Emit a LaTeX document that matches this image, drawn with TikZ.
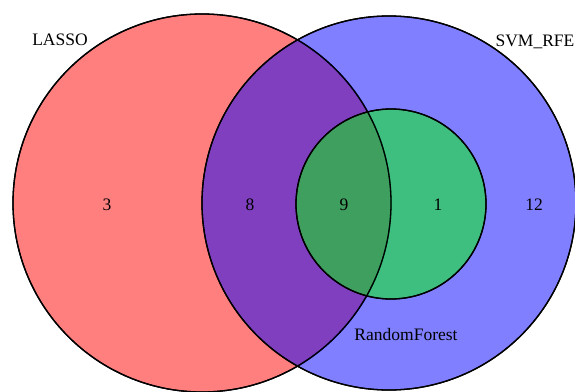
\documentclass[tikz,border=0pt]{standalone}
\usepackage{fontspec}
\setmainfont{Liberation Serif}
\begin{document}
\begin{tikzpicture}[x=1pt,y=-1pt,
  setc/.style={circle,inner sep=0pt,outer sep=0pt,fill opacity=0.5,draw opacity=1,draw=black,line width=1.3pt},
  lbl/.style={font=\fontsize{17.5}{20}\selectfont,text=black,inner sep=0pt}]
\useasboundingbox (0,0) rectangle (575,391);
\fill[white] (0,0) rectangle (575,391);
\node[setc,fill=red,minimum size=378pt] (lasso) at (202,203) {};
\node[setc,fill=blue,minimum size=374pt] (svm) at (389,203) {};
\node[setc,fill=green,minimum size=190pt] (rf) at (391,204) {};
\draw[line width=1.3pt] (202,203) circle[radius=189];
\draw[line width=1.3pt] (389,203) circle[radius=187];
\draw[line width=1.3pt] (391,204) circle[radius=95];
\node[lbl] (tlasso) at (60,40) {LASSO};
\node[lbl] (tsvm) at (535,42) {SVM\_RFE};
\node[lbl] (trf) at (406,335) {RandomForest};
\node[lbl] (n3) at (107,205) {3};
\node[lbl] (n8) at (250,205) {8};
\node[lbl] (n9) at (344,205) {9};
\node[lbl] (n1) at (438,205) {1};
\node[lbl] (n12) at (534,205) {12};
\end{tikzpicture}
\end{document}
